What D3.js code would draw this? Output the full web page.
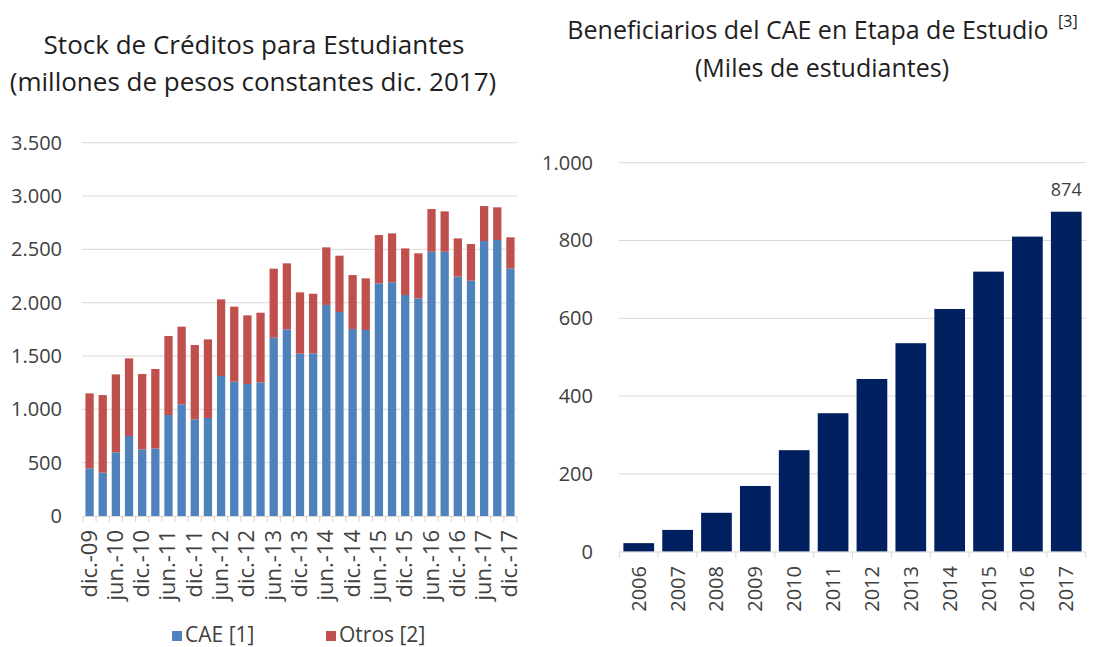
<!DOCTYPE html>
<html>
<head>
<meta charset="utf-8">
<script src="https://cdn.jsdelivr.net/npm/d3@7"></script>
<style>
  body { margin: 0; background: #fff; }
  text { font-family: "Open Sans", sans-serif; }
</style>
</head>
<body>
<div id="chart"></div>
<script>
// left chart: quarterly stock of student credits
var periods = ["dic.-09","mar.-10","jun.-10","sep.-10","dic.-10","mar.-11","jun.-11","sep.-11","dic.-11",
               "mar.-12","jun.-12","sep.-12","dic.-12","mar.-13","jun.-13","sep.-13","dic.-13",
               "mar.-14","jun.-14","sep.-14","dic.-14","mar.-15","jun.-15","sep.-15","dic.-15",
               "mar.-16","jun.-16","sep.-16","dic.-16","mar.-17","jun.-17","sep.-17","dic.-17"];
var cae = [447,406,597,750,625,634,947,1047,906,919,1313,1259,1238,1253,1672,1750,1522,
           1525,1978,1913,1753,1744,2181,2191,2072,2041,2478,2478,2244,2206,2578,2588,2322];
var otros = [703,728,731,728,706,744,741,728,697,737,718,704,643,653,647,619,575,
             559,541,528,506,484,453,459,437,422,400,378,359,344,328,306,291];
var leftTicks = [0,500,1000,1500,2000,2500,3000,3500];

// right chart: CAE beneficiaries (thousands)
var years = ["2006","2007","2008","2009","2010","2011","2012","2013","2014","2015","2016","2017"];
var beneficiarios = [22,56,100,169,261,356,444,536,624,720,810,874];
var rightTicks = [0,200,400,600,800,1000];

function init(){
    var w = 1097, h = 647;
    var txt = "#404040";
    var grid = "#d9d9d9";
    var es = d3.formatLocale({decimal: ",", thousands: ".", grouping: [3], currency: ["$",""]});
    var fmt = es.format(",");

    var svg = d3.select("#chart").append("svg")
                .attr("width", w)
                .attr("height", h);

    // ---------- left chart ----------
    var x1 = d3.scaleBand().domain(periods).range([83, 517]).paddingInner(0.37).paddingOuter(0.185);
    var y1 = d3.scaleLinear().domain([0, 3500]).range([516, 142.7]);

    svg.append("text").attr("x", 254).attr("y", 54).attr("text-anchor", "middle")
        .attr("font-size", 26).attr("fill", "#1e1e1e").text("Stock de Créditos para Estudiantes");
    svg.append("text").attr("x", 253).attr("y", 91).attr("text-anchor", "middle")
        .attr("font-size", 26).attr("fill", "#1e1e1e").text("(millones de pesos constantes dic. 2017)");

    svg.append("g").selectAll("line").data(leftTicks.slice(1)).enter().append("line")
        .attr("x1", 82).attr("x2", 517)
        .attr("y1", function(d){ return y1(d); }).attr("y2", function(d){ return y1(d); })
        .attr("stroke", grid).attr("stroke-width", 1);

    var yAxisL = d3.axisLeft(y1).tickValues(leftTicks).tickFormat(fmt).tickSize(0).tickPadding(21);
    var gl = svg.append("g").attr("transform", "translate(83,0)").call(yAxisL);
    gl.select(".domain").remove();
    gl.selectAll("text").attr("font-size", 20).attr("fill", txt).attr("font-family", "Open Sans");

    var stacked = d3.stack().keys(["cae", "otros"])(periods.map(function(p, i){
        return {period: p, cae: cae[i], otros: otros[i]};
    }));
    var colors = {cae: "#4f81bd", otros: "#c0504d"};

    svg.append("g").selectAll("g").data(stacked).enter().append("g")
        .attr("fill", function(s){ return colors[s.key]; })
        .selectAll("rect").data(function(s){ return s; }).enter().append("rect")
        .attr("x", function(d){ return x1(d.data.period); })
        .attr("width", x1.bandwidth())
        .attr("y", function(d){ return y1(d[1]); })
        .attr("height", function(d){ return y1(d[0]) - y1(d[1]); });

    // axis line + ticks between bars
    svg.append("line").attr("x1", 83).attr("x2", 517).attr("y1", 516.5).attr("y2", 516.5)
        .attr("stroke", grid);
    var edges = periods.map(function(p){ return x1(p) - x1.step() * x1.paddingInner() / 2; });
    edges.push(517);
    svg.append("g").selectAll("line").data(edges).enter().append("line")
        .attr("x1", function(d){ return d; }).attr("x2", function(d){ return d; })
        .attr("y1", 516.5).attr("y2", 522).attr("stroke", "#e8cfc8");

    svg.append("g").selectAll("text").data(periods.filter(function(p, i){ return i % 2 === 0; }))
        .enter().append("text")
        .attr("transform", function(d){
            return "translate(" + (x1(d) + x1.bandwidth() / 2 + 7) + ",530) rotate(-90)";
        })
        .attr("text-anchor", "end")
        .attr("font-size", 22).attr("fill", txt)
        .text(function(d){ return d; });

    // legend
    var legend = [{key: "cae", label: "CAE [1]", x: 172}, {key: "otros", label: "Otros [2]", x: 326}];
    var lg = svg.append("g").selectAll("g").data(legend).enter().append("g");
    lg.append("rect").attr("x", function(d){ return d.x; }).attr("y", 631)
        .attr("width", 10).attr("height", 10).attr("fill", function(d){ return colors[d.key]; });
    lg.append("text").attr("x", function(d){ return d.x + 13; }).attr("y", 642)
        .attr("font-size", 21).attr("fill", txt).text(function(d){ return d.label; });

    // ---------- right chart ----------
    var x2 = d3.scaleBand().domain(years).range([619.3, 1085.7]).paddingInner(0.21).paddingOuter(0.105);
    var y2 = d3.scaleLinear().domain([0, 1000]).range([551.7, 162.7]);

    svg.append("text").attr("x", 808).attr("y", 39).attr("text-anchor", "middle")
        .attr("font-size", 25).attr("fill", "#1e1e1e").text("Beneficiarios del CAE en Etapa de Estudio");
    svg.append("text").attr("x", 1058).attr("y", 27).attr("font-size", 16).attr("fill", "#1e1e1e").text("[3]");
    svg.append("text").attr("x", 822).attr("y", 77).attr("text-anchor", "middle")
        .attr("font-size", 25).attr("fill", "#1e1e1e").text("(Miles de estudiantes)");

    svg.append("g").selectAll("line").data(rightTicks.slice(1)).enter().append("line")
        .attr("x1", 619).attr("x2", 1086)
        .attr("y1", function(d){ return y2(d); }).attr("y2", function(d){ return y2(d); })
        .attr("stroke", grid).attr("stroke-width", 1);

    var yAxisR = d3.axisLeft(y2).tickValues(rightTicks).tickFormat(fmt).tickSize(0).tickPadding(26);
    var gr = svg.append("g").attr("transform", "translate(619,0)").call(yAxisR);
    gr.select(".domain").remove();
    gr.selectAll("text").attr("font-size", 20).attr("fill", txt).attr("font-family", "Open Sans");

    svg.append("g").selectAll("rect").data(years).enter().append("rect")
        .attr("x", function(d){ return x2(d); })
        .attr("width", x2.bandwidth())
        .attr("y", function(d, i){ return y2(beneficiarios[i]); })
        .attr("height", function(d, i){ return y2(0) - y2(beneficiarios[i]); })
        .attr("fill", "#002060");

    svg.append("line").attr("x1", 619).attr("x2", 1086).attr("y1", 552).attr("y2", 552).attr("stroke", grid);
    var edges2 = years.map(function(y){ return x2(y) - x2.step() * x2.paddingInner() / 2; });
    edges2.push(1085.7);
    svg.append("g").selectAll("line").data(edges2).enter().append("line")
        .attr("x1", function(d){ return d; }).attr("x2", function(d){ return d; })
        .attr("y1", 552).attr("y2", 558).attr("stroke", grid);

    svg.append("g").selectAll("text").data(years).enter().append("text")
        .attr("transform", function(d){
            return "translate(" + (x2(d) + x2.bandwidth() / 2 + 7) + ",566) rotate(-90)";
        })
        .attr("text-anchor", "end")
        .attr("font-family", "Liberation Sans")
        .attr("font-size", 20).attr("fill", txt)
        .text(function(d){ return d; });

    // value label on last bar
    var last = years.length - 1;
    svg.append("text")
        .attr("x", x2(years[last]) + x2.bandwidth() / 2)
        .attr("y", y2(beneficiarios[last]) - 16)
        .attr("text-anchor", "middle")
        .attr("font-size", 18).attr("fill", txt)
        .text(beneficiarios[last]);
}
window.onload = init;
</script>
</body>
</html>
